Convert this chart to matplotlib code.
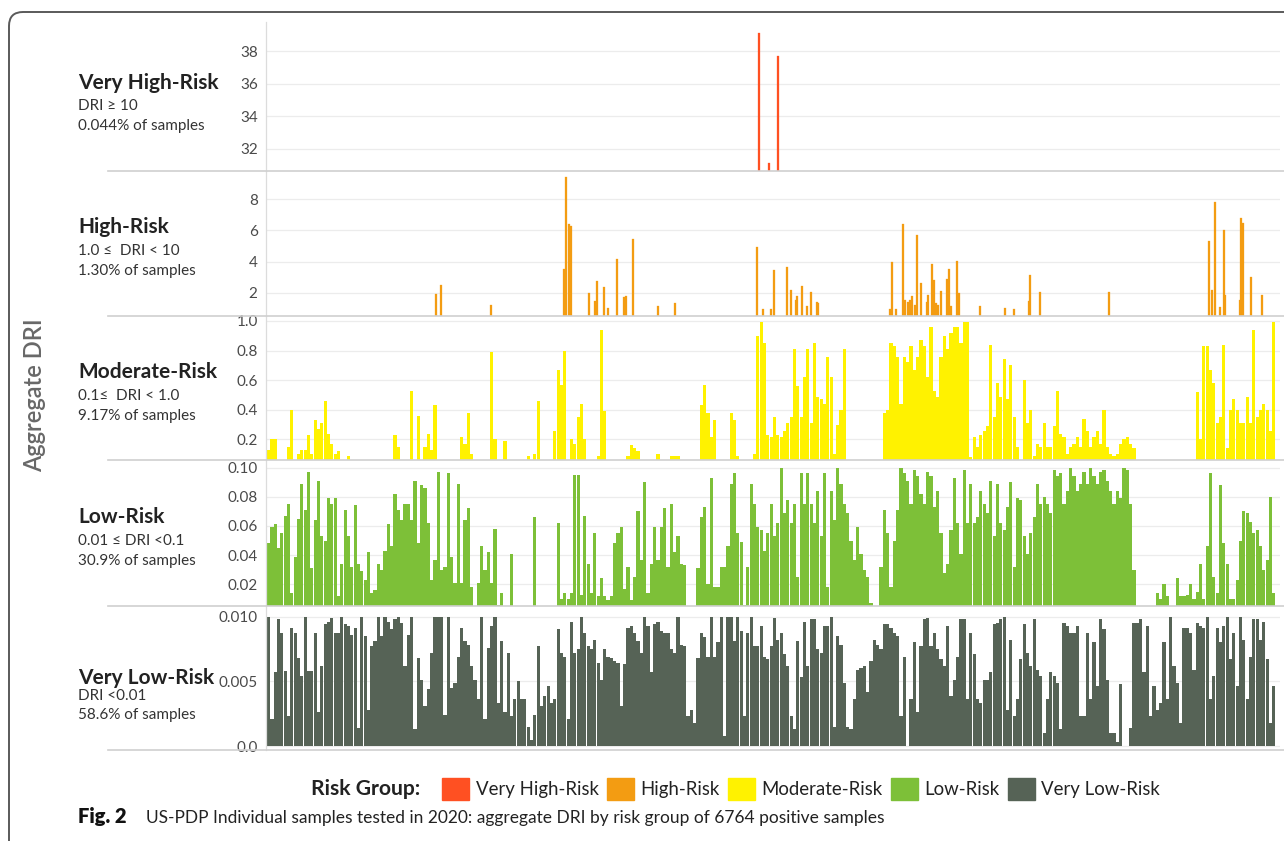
import numpy as np
import matplotlib
matplotlib.use("Agg")
import matplotlib.pyplot as plt
import matplotlib.patches as mpatches
from matplotlib.lines import Line2D
from matplotlib.transforms import IdentityTransform

plt.rcParams['font.family'] = ['Lato', 'DejaVu Sans']

# ---- data ----------------------------------------------------------------
n_samples = 6764

very_high_idx = [3296, 3360, 3417]
very_high_dri = [39.1, 31.15, 37.7]

high_idx = [1138, 1172, 1508, 1992, 2001, 2008, 2028, 2041, 2157, 2197,
            2215, 2261, 2288, 2348, 2393, 2406, 2455, 2617, 2731, 3278,
            3322, 3371, 3395, 3478, 3504, 3538, 3549, 3578, 3611, 3638,
            3682, 3689, 4167, 4182, 4205, 4251, 4269, 4289, 4300, 4311,
            4336, 4345, 4374, 4411, 4422, 4445, 4462, 4474, 4489, 4505,
            4549, 4560, 4576, 4612, 4625, 4769, 4932, 4994, 5092, 5101,
            5167, 5630, 6293, 6315, 6333, 6370, 6393, 6404, 6500, 6510,
            6521, 6577, 6648]
high_dri = [1.94, 2.53, 1.23, 3.55, 2.74, 9.4, 6.43, 6.3, 2.0, 1.47,
            2.74, 2.4, 1.04, 4.17, 1.72, 1.83, 5.47, 1.19, 1.36, 4.94,
            0.98, 0.98, 3.45, 3.64, 2.2, 1.53, 1.83, 2.47, 1.15, 2.06,
            1.4, 1.36, 0.98, 3.96, 0.98, 6.43, 1.53, 1.4, 1.57, 1.83,
            1.26, 5.72, 2.64, 1.4, 1.89, 3.87, 2.81, 1.36, 1.26, 2.1,
            2.89, 3.53, 1.15, 4.02, 2.0, 1.15, 1.04, 0.98, 1.47, 3.17,
            2.04, 2.04, 5.3, 2.17, 7.81, 1.1, 6.04, 1.89, 1.53, 6.79,
            6.47, 3.02, 1.89]

# dense groups: one value per slot along the sample axis (0 = no sample)
# moderate risk, hundredths of DRI
moderate_a = [18, 13, 20, 20, 0, 0, 0, 15, 40, 0,
              10, 13, 13, 23, 10, 33, 27, 31, 46, 24,
              17, 10, 12, 0, 0, 9, 0, 0, 0, 0,
              0, 0, 0, 0, 0, 0, 0, 0, 0, 23,
              15, 0, 0, 0, 53, 0, 36, 0, 15, 24,
              13, 43, 0, 0, 0, 0, 0, 0, 0, 22,
              17, 38, 10, 0, 0, 0, 0, 0, 79, 20,
              0, 0, 19, 0, 0, 0, 0, 0, 0, 9,
              0, 10, 46, 0, 0, 0, 0, 26, 67, 57,
              80, 0, 20, 17, 35, 44, 20, 0, 0, 0,
              9, 94]
moderate_b = [39, 0, 0, 0, 0, 0, 0, 9, 16,
              14, 12, 0, 0, 0, 0, 0, 10, 0, 0,
              0, 9, 9, 9, 0, 0, 0, 0, 0, 0,
              43, 57, 38, 22, 33, 0, 0, 0, 0, 38,
              33, 9, 0, 0, 0, 0, 10, 90, 99, 85,
              23, 22, 35, 23, 22, 26, 31, 35, 81, 56,
              35, 62, 81, 31, 85, 49, 47, 44, 76, 62,
              10, 30, 40, 81, 0, 0, 0, 0, 0, 0,
              0, 0, 0, 0, 0, 38, 40, 85, 83, 76,
              44, 76, 72, 83, 67, 76, 87, 83, 62, 96,
              53, 49]
moderate_c = [76, 90, 81, 92, 96, 96, 85, 99, 99,
              8, 22, 15, 23, 26, 29, 84, 35, 58, 49,
              74, 47, 70, 35, 15, 0, 60, 31, 40, 9,
              17, 15, 31, 15, 15, 29, 53, 24, 22, 10,
              15, 17, 22, 15, 34, 26, 15, 22, 26, 17,
              40, 15, 10, 9, 10, 17, 20, 22, 17, 14,
              0, 0, 0, 0, 0, 0, 0, 0, 0, 0,
              0, 0, 0, 0, 0, 0, 0, 0, 52, 20,
              83, 83, 67, 58, 31, 35, 84, 14, 40, 47,
              40, 31, 31, 49, 31, 94, 35, 40, 44, 40,
              26, 99]

# low risk, thousandths of DRI
low_a = [42, 48, 59, 61, 45, 55, 67, 75, 14, 39,
         65, 89, 71, 97, 31, 64, 91, 53, 50, 79,
         75, 79, 12, 34, 71, 53, 32, 74, 34, 29,
         23, 42, 14, 16, 34, 30, 43, 61, 46, 82,
         71, 64, 75, 75, 64, 91, 48, 88, 86, 62,
         23, 37, 97, 30, 32, 96, 39, 21, 89, 21,
         64, 72, 18, 0, 21, 46, 30, 42, 21, 58,
         6, 14, 0, 0, 41, 0, 0, 0, 0, 0,
         0, 66, 0, 0, 0, 0, 0, 0, 62, 10,
         14, 10, 14, 95, 95, 13, 67, 34, 14, 55,
         12, 24]
low_b = [12, 9, 12, 48, 55, 59, 17, 32, 9,
         25, 70, 37, 90, 14, 34, 59, 37, 59, 72,
         32, 75, 42, 53, 34, 33, 0, 0, 0, 31,
         66, 73, 20, 93, 18, 18, 32, 32, 46, 89,
         96, 55, 49, 6, 32, 89, 75, 59, 57, 43,
         55, 75, 53, 62, 100, 69, 78, 62, 75, 25,
         96, 75, 96, 75, 62, 84, 53, 96, 18, 84,
         64, 100, 89, 75, 69, 50, 37, 59, 41, 30,
         25, 7, 0, 0, 32, 71, 55, 18, 50, 71,
         100, 96, 91, 75, 98, 94, 82, 75, 97, 94,
         73, 84]
low_c = [55, 28, 34, 57, 93, 62, 41, 98, 62,
         89, 62, 66, 84, 75, 69, 91, 53, 89, 62,
         57, 73, 90, 32, 79, 78, 53, 41, 55, 66,
         89, 75, 80, 75, 69, 98, 94, 96, 75, 84,
         100, 94, 84, 89, 97, 89, 100, 94, 89, 97,
         98, 91, 84, 75, 84, 79, 100, 98, 75, 30,
         0, 0, 0, 0, 0, 0, 14, 10, 20, 12,
         0, 0, 24, 12, 12, 13, 20, 10, 15, 34,
         10, 46, 96, 25, 14, 88, 48, 34, 10, 10,
         23, 50, 70, 69, 63, 55, 57, 46, 30, 37,
         80, 14]

# very low risk, units of 0.0001 DRI
very_low_a = [60, 100, 21, 57, 98, 87, 58, 23, 91, 87,
              68, 54, 100, 58, 58, 87, 26, 62, 94, 96,
              99, 87, 87, 100, 94, 93, 86, 91, 14, 100,
              85, 28, 77, 81, 100, 85, 100, 96, 90, 98,
              100, 95, 62, 86, 100, 13, 68, 51, 31, 44,
              72, 100, 100, 100, 24, 100, 45, 49, 69, 91,
              81, 78, 62, 51, 36, 100, 21, 76, 93, 100,
              33, 81, 26, 72, 23, 36, 50, 36, 36, 15,
              5, 24, 77, 31, 39, 46, 33, 36, 90, 72,
              69, 21, 96, 72, 75, 100, 87, 77, 75, 82,
              64, 51]
very_low_b = [75, 69, 68, 66, 64, 31, 63, 91, 93,
              87, 81, 72, 100, 93, 57, 94, 96, 89, 87,
              87, 75, 72, 100, 78, 77, 23, 28, 18, 68,
              87, 84, 69, 100, 69, 80, 100, 8, 100, 100,
              81, 100, 89, 23, 87, 100, 77, 77, 93, 69,
              67, 77, 99, 82, 87, 71, 62, 23, 13, 81,
              53, 96, 62, 98, 98, 75, 72, 93, 93, 100,
              15, 85, 78, 49, 15, 13, 36, 59, 60, 62,
              42, 66, 82, 78, 75, 94, 94, 91, 87, 85,
              23, 69, 0, 36, 80, 26, 77, 98, 99, 77,
              87, 75]
very_low_c = [67, 62, 93, 39, 51, 69, 98, 98, 36,
              87, 71, 36, 33, 51, 51, 57, 94, 95, 98,
              100, 28, 82, 23, 36, 67, 94, 72, 62, 98,
              59, 54, 10, 36, 57, 54, 49, 13, 95, 93,
              87, 87, 93, 23, 23, 87, 36, 80, 46, 98,
              90, 51, 10, 10, 3, 48, 0, 0, 14, 95,
              95, 98, 57, 93, 23, 46, 28, 33, 80, 36,
              100, 62, 49, 18, 91, 91, 87, 59, 95, 93,
              91, 100, 36, 54, 91, 80, 93, 100, 67, 87,
              46, 100, 82, 36, 69, 98, 98, 82, 96, 67,
              18, 46]

group_names = ['Very High-Risk', 'High-Risk', 'Moderate-Risk', 'Low-Risk', 'Very Low-Risk']
group_ranges = ['DRI \u2265 10', '1.0 \u2264  DRI < 10', '0.1\u2264  DRI < 1.0',
                '0.01 \u2264 DRI <0.1', 'DRI <0.01']
group_share = ['0.044% of samples', '1.30% of samples', '9.17% of samples',
               '30.9% of samples', '58.6% of samples']
colors = ['#FF5022', '#F39C12', '#FFF200', '#7DC038', '#566356']

moderate = np.array(moderate_a + moderate_b + moderate_c) / 100
low = np.array(low_a + low_b + low_c) / 1000
very_low = np.array(very_low_a + very_low_b + very_low_c) / 10000

# ---- layout ---------------------------------------------------------------
W, H = 1284, 841
fig = plt.figure(figsize=(W / 100, H / 100), dpi=100)

x_left, x_right = 266, 1280
bounds = [(22, 171), (171, 315.5), (315.5, 460.5), (460.5, 605.5), (605.5, 750)]
ylims = [(30.65, 39.78), (0.56, 9.79), (0.058, 1.037), (0.0055, 0.1048), (-0.0003, 0.01085)]
yticks = [[32, 34, 36, 38], [2, 4, 6, 8], [0.2, 0.4, 0.6, 0.8, 1.0],
          [0.02, 0.04, 0.06, 0.08, 0.10], [0.0, 0.005, 0.010]]
ytick_labels = [['32', '34', '36', '38'], ['2', '4', '6', '8'],
                ['0.2', '0.4', '0.6', '0.8', '1.0'],
                ['0.02', '0.04', '0.06', '0.08', '0.10'],
                ['0.0', '0.005', '0.010']]
title_base = [89, 233, 378, 523, 684]
line_gap = [(21, 41), (22, 42), (22, 42), (22, 42), (16, 35)]

slot = 22.2
dense = [moderate, low, very_low]

axes = []
for k, (top, bot) in enumerate(bounds):
    ax = fig.add_axes([x_left / W, 1 - bot / H, (x_right - x_left) / W, (bot - top) / H])
    ax.set_xlim(5, n_samples + 4)
    ax.set_ylim(*ylims[k])
    ax.set_yticks(yticks[k])
    ax.set_yticklabels(ytick_labels[k])
    ax.set_xticks([])
    ax.tick_params(axis='y', length=0, pad=6, labelsize=11, labelcolor='#4a4a4a')
    ax.grid(axis='y', color='#ececec', linewidth=0.9)
    ax.set_axisbelow(True)
    for side in ['top', 'right', 'bottom']:
        ax.spines[side].set_visible(False)
    ax.spines['left'].set_color('#dcdcdc')
    ax.spines['left'].set_linewidth(0.9)
    ax.patch.set_alpha(0)
    axes.append(ax)

axes[0].bar(very_high_idx, very_high_dri, width=14, color=colors[0],
            edgecolor=colors[0], linewidth=0.2)
axes[1].bar(high_idx, high_dri, width=14, color=colors[1],
            edgecolor=colors[1], linewidth=0.2)
for k, vals in enumerate(dense):
    xs = np.arange(len(vals)) * slot
    keep = vals > 0
    axes[k + 2].bar(xs[keep], vals[keep], width=slot * 0.96, color=colors[k + 2], linewidth=0)

# separators between the panels
for top, bot in bounds:
    fig.add_artist(Line2D([108 / W, 1284 / W], [1 - bot / H] * 2, color='#cfcfcf', linewidth=1.2))

# panel labels
for k in range(5):
    yb = title_base[k]
    g1, g2 = line_gap[k]
    fig.text(78 / W, 1 - yb / H, group_names[k], fontsize=15, fontweight='bold',
             color='#222222', va='baseline')
    fig.text(78 / W, 1 - (yb + g1) / H, group_ranges[k], fontsize=11,
             color='#333333', va='baseline')
    fig.text(78 / W, 1 - (yb + g2) / H, group_share[k], fontsize=11,
             color='#333333', va='baseline')

fig.text(35 / W, 1 - 395 / H, 'Aggregate DRI', rotation=90, fontsize=17,
         fontweight='semibold', color='#686868', ha='center', va='center')

# legend
handles = [mpatches.Patch(color=c) for c in colors]
fig.text(311 / W, 1 - 789 / H, 'Risk Group:', fontsize=15.2, fontweight='bold',
         color='#222222', va='center')
fig.legend(handles, group_names, loc='center left', bbox_to_anchor=(442 / W, 1 - 789 / H),
           ncol=5, frameon=False, fontsize=13.4, handlelength=1.45, handleheight=1.45,
           handletextpad=0.35, columnspacing=0.45, borderpad=0, borderaxespad=0,
           labelcolor='#222222')

# caption
fig.text(78 / W, 1 - 823 / H, 'Fig. 2', fontsize=14.5, fontweight='heavy',
         color='#111111', va='baseline')
fig.text(146 / W, 1 - 823 / H,
         'US-PDP Individual samples tested in 2020: aggregate DRI by risk group of 6764 positive samples',
         fontsize=12.5, color='#222222', va='baseline')

# rounded frame round the figure
frame = mpatches.FancyBboxPatch((9, -40), 1320, 840 - 11 + 40,
                                boxstyle='round,pad=0,rounding_size=14',
                                transform=IdentityTransform(), facecolor='none',
                                edgecolor='#5a5a5a', linewidth=1.4)
fig.add_artist(frame)

fig.savefig('out.png', dpi=100)
